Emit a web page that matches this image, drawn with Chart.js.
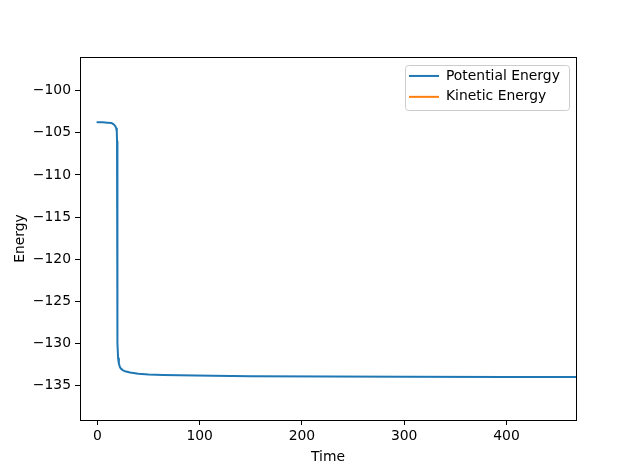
<!DOCTYPE html>
<html>
<head>
<meta charset="utf-8">
<script src="https://cdn.jsdelivr.net/npm/chart.js@4/dist/chart.umd.min.js"></script>
<style>
  html, body { margin: 0; padding: 0; background: #fff; }
  #wrap { width: 640px; height: 472px; }
</style>
</head>
<body>
<div id="wrap"><canvas id="energyChart" width="640" height="472"></canvas></div>
<script>
// values
const time = [0, 5, 10, 14, 16, 17.5, 18.5, 19, 19.2, 19.4, 19.6, 19.8, 20.3, 21, 22, 23, 25, 28, 32, 40, 50, 64, 80, 113, 150, 226, 300, 400, 480];
const potentialEnergy = [-103.75, -103.75, -103.8, -103.85, -104.0, -104.2, -104.5, -104.9, -106, -115, -125, -130, -131.8, -132.4, -132.8, -133.0, -133.2, -133.35, -133.45, -133.6, -133.7, -133.75, -133.8, -133.85, -133.9, -133.94, -133.96, -133.98, -133.99];
const kineticEnergy = []; // no visible points in the reference

const xTicks = [0, 100, 200, 300, 400];
const yTicks = [-135, -130, -125, -120, -115, -110, -105, -100];

const FONT = { family: 'DejaVu Sans', size: 13.9 };

function minusSign(v) {
    return v < 0 ? '\u2212' + Math.abs(v) : String(v);
}

// put the legend in the upper right corner of the axes, matplotlib style,
// with a light frame behind it, and a full box round the axes
const legendPlacer = {
    id: 'legendPlacer',
    beforeDraw(chart) {
        const lg = chart.legend;
        const a = chart.chartArea;
        const ctx = chart.ctx;
        const frameRight = a.right - 7;
        lg.left = a.right - 174;
        lg.right = a.right;
        lg.top = a.top + 5;
        lg.bottom = a.bottom;

        const f = { x: lg.left + 3, y: a.top + 8, w: frameRight - lg.left - 3, h: 45 };
        ctx.save();
        ctx.fillStyle = 'rgba(255,255,255,0.8)';
        ctx.strokeStyle = '#cccccc';
        ctx.lineWidth = 1;
        ctx.beginPath();
        ctx.roundRect(Math.round(f.x) + 0.5, Math.round(f.y) + 0.5, Math.round(f.w), Math.round(f.h), 3);
        ctx.fill();
        ctx.stroke();
        ctx.restore();
    },
    afterDraw(chart) {
        const a = chart.chartArea;
        const ctx = chart.ctx;
        ctx.save();
        ctx.strokeStyle = '#000';
        ctx.lineWidth = 1;
        ctx.strokeRect(Math.round(a.left) + 0.5, Math.round(a.top) + 0.5, Math.round(a.right - a.left), Math.round(a.bottom - a.top));
        ctx.restore();
    }
};

const ctx = document.getElementById('energyChart').getContext('2d');

const chart = new Chart(ctx, {
    type: 'line',
    data: {
        datasets: [
            {
                label: 'Potential Energy',
                data: time.map((t, i) => ({ x: t, y: potentialEnergy[i] })),
                borderColor: '#1f77b4',
                backgroundColor: '#1f77b4',
                borderWidth: 2,
                borderJoinStyle: 'round',
                borderCapStyle: 'round',
                pointRadius: 0,
                tension: 0
            },
            {
                label: 'Kinetic Energy',
                data: kineticEnergy,
                borderColor: '#ff7f0e',
                backgroundColor: '#ff7f0e',
                borderWidth: 2,
                pointRadius: 0
            }
        ]
    },
    plugins: [legendPlacer],
    options: {
        responsive: false,
        animation: false,
        layout: { padding: { left: 0, right: 64, top: 57, bottom: 0 } },
        plugins: {
            legend: {
                position: 'chartArea',
                align: 'start',
                labels: {
                    usePointStyle: true,
                    pointStyle: 'line',
                    pointStyleWidth: 30,
                    color: '#000',
                    font: FONT,
                    padding: 7
                }
            },
            tooltip: { enabled: false }
        },
        scales: {
            x: {
                type: 'linear',
                min: -17,
                max: 468,
                afterBuildTicks: (scale) => { scale.ticks = xTicks.map(v => ({ value: v })); },
                afterFit: (scale) => { scale.height = 52; },
                grid: { drawOnChartArea: false, drawTicks: true, tickLength: 5, tickColor: '#000' },
                border: { color: '#000', width: 1 },
                ticks: { color: '#000', font: FONT, padding: 3, maxRotation: 0, callback: minusSign },
                title: { display: true, text: 'Time', color: '#000', font: FONT, padding: { top: 0, bottom: 6 } }
            },
            y: {
                min: -139.1,
                max: -96,
                afterBuildTicks: (scale) => { scale.ticks = yTicks.map(v => ({ value: v })); },
                afterFit: (scale) => { scale.width = 80; },
                grid: { drawOnChartArea: false, drawTicks: true, tickLength: 5, tickColor: '#000' },
                border: { color: '#000', width: 1 },
                ticks: { color: '#000', font: FONT, padding: 4, callback: minusSign },
                title: { display: true, text: 'Energy', color: '#000', font: FONT, padding: { top: 12, bottom: 0 } }
            }
        }
    }
});
</script>
</body>
</html>
